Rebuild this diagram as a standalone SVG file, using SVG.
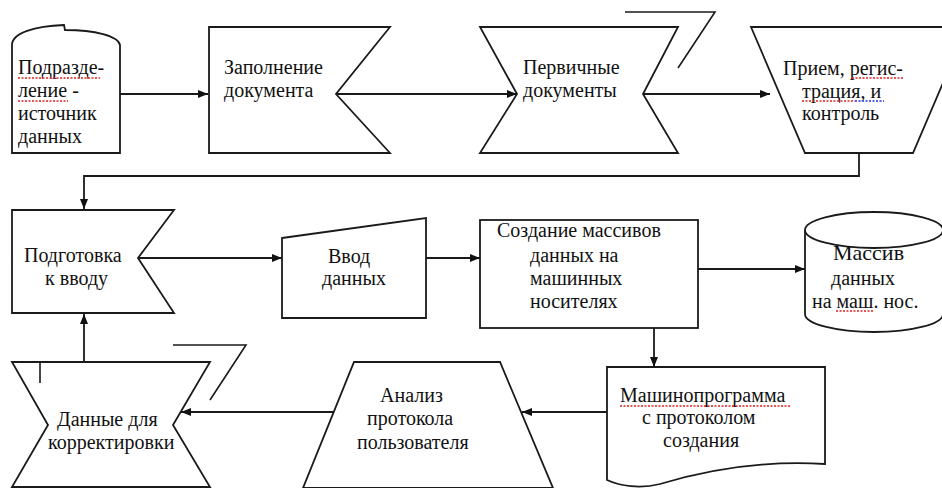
<svg xmlns="http://www.w3.org/2000/svg" width="942" height="488" viewBox="0 0 942 488">
<style>
.s{fill:#fff;stroke:#1a1a1a;stroke-width:1.8;stroke-linejoin:miter}
.d{fill:none;stroke:#1a1a1a;stroke-width:1.6}
.c{fill:none;stroke:#1a1a1a;stroke-width:1.8}
.t{font-size:20px;fill:#111}
.sq{fill:none;stroke:#e02020;stroke-width:1.4;stroke-dasharray:2 1.5}
.sqb{fill:none;stroke:#2030e0;stroke-width:1.4;stroke-dasharray:2 1.5}
</style>
<defs>
<marker id="ah" markerUnits="userSpaceOnUse" markerWidth="10" markerHeight="8" refX="10" refY="4" orient="auto">
<path d="M0,0 L10,4 L0,8 Z" fill="#111"/>
</marker>
</defs>
<rect width="942" height="488" fill="#fff"/>
<g font-family="Liberation Serif, DejaVu Serif, Times New Roman, serif">

<g id="n1">
<path class="s" d="M12,153 V45 C12,33 35,26 64,25 L65,30 C95,30 118,36 120,45 V153 Z"/>
<text class="t" x="18" y="74">Подразде-</text>
<text class="t" x="18" y="97">ление -</text>
<text class="t" x="18" y="120">источник</text>
<text class="t" x="18" y="143">данных</text>
<path class="sq" d="M18,78 H100 M18,101 H68"/>
</g>

<g id="n2">
<path class="s" d="M209,27 H390 L336,94 L390,153 H209 Z"/>
<text class="t" x="224" y="74">Заполнение</text>
<text class="t" x="224" y="97">документа</text>
</g>

<g id="n3">
<path class="s" d="M480,27 H678 L643,94 L678,153 H480 L517,94 Z"/>
<path class="d" d="M625,12 H715 L678,68"/>
<text class="t" x="523" y="74">Первичные</text>
<text class="t" x="523" y="97">документы</text>
</g>

<g id="n4">
<path class="s" d="M751,27 H967 L913,153 H805 Z"/>
<text class="t" x="783" y="75">Прием, регис-</text>
<text class="t" x="802" y="98">трация, и</text>
<text class="t" x="802" y="120">контроль</text>
<path class="sq" d="M852,78 H903 M802,101 H855"/>
<path class="sqb" d="M855,101 H884"/>
</g>

<g id="n5">
<path class="s" d="M12,210 H174 L138,258 L174,313 H12 Z"/>
<text class="t" x="24" y="262">Подготовка</text>
<text class="t" x="45" y="285">к вводу</text>
</g>

<g id="n6">
<path class="s" d="M282,238 L426,218 V318 H282 Z"/>
<text class="t" x="328" y="263">Ввод</text>
<text class="t" x="322" y="285">данных</text>
</g>

<g id="n7">
<rect class="s" x="480" y="220" width="218" height="108"/>
<text class="t" x="497" y="237">Создание массивов</text>
<text class="t" x="530" y="262">данных на</text>
<text class="t" x="530" y="285">машинных</text>
<text class="t" x="530" y="308">носителях</text>
</g>

<g id="n8">
<path class="s" d="M805,230 V314 A69,18 0 0 0 943,314 V230"/>
<ellipse class="s" cx="874" cy="230" rx="69" ry="18"/>
<text class="t" x="833" y="260" style="font-size:22px">Массив</text>
<text class="t" x="831" y="285">данных</text>
<text class="t" x="812" y="308">на маш. нос.</text>
<path class="sq" d="M836,311 H873"/>
</g>

<g id="n9">
<path class="s" d="M607,367 H825 V464 C760,460 700,472 660,484 C640,489 620,486 607,480 Z"/>
<text class="t" x="620" y="402">Машинопрограмма</text>
<text class="t" x="642" y="424">с протоколом</text>
<text class="t" x="663" y="447">создания</text>
<path class="sq" d="M620,406 H790"/>
</g>

<g id="n10">
<path class="s" d="M354,362 H500 L553,488 H303 Z"/>
<text class="t" x="380" y="402">Анализ</text>
<text class="t" x="367" y="425">протокола</text>
<text class="t" x="357" y="449">пользователя</text>
</g>

<g id="n11">
<path class="s" d="M12,362 H210 L173,425 L210,487 H12 L48,425 Z"/>
<path class="d" d="M173,345 H246 L210,400 M40,362 V383"/>
<text class="t" x="57" y="426">Данные для</text>
<text class="t" x="48" y="449">корректировки</text>
</g>

</g>
<g id="connectors">
<path class="c" marker-end="url(#ah)" d="M120,94 H208"/>
<path class="c" marker-end="url(#ah)" d="M336,94 H517"/>
<path class="c" marker-end="url(#ah)" d="M643,94 H770"/>
<path class="c" marker-end="url(#ah)" d="M859,153 V176 H84 V209"/>
<path class="c" marker-end="url(#ah)" d="M138,258 H282"/>
<path class="c" marker-end="url(#ah)" d="M426,258 H480"/>
<path class="c" marker-end="url(#ah)" d="M698,269 H805"/>
<path class="c" marker-end="url(#ah)" d="M654,328 V367"/>
<path class="c" marker-end="url(#ah)" d="M607,412 H522"/>
<path class="c" marker-end="url(#ah)" d="M333,412 H181"/>
<path class="c" marker-end="url(#ah)" d="M84,362 V314"/>
</g>
</svg>
